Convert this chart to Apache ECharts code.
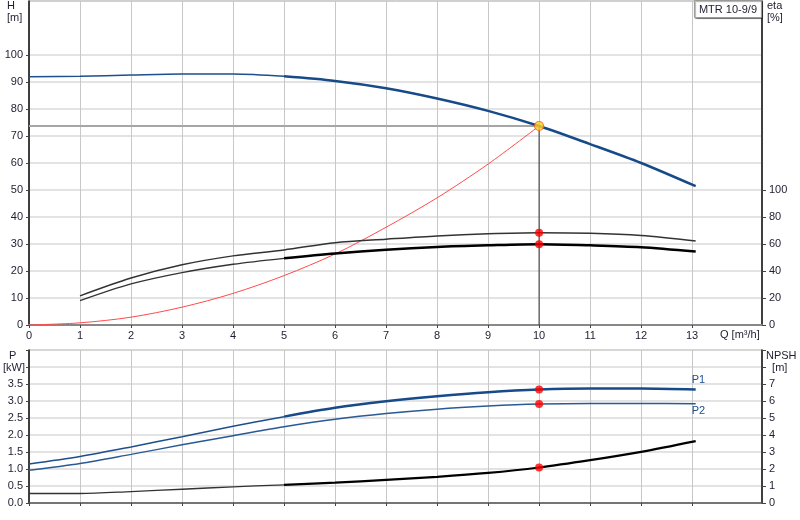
<!DOCTYPE html>
<html>
<head>
<meta charset="utf-8">
<script src="https://cdn.jsdelivr.net/npm/echarts@6/dist/echarts.min.js"></script>
<style>
html,body{margin:0;padding:0;background:#fff}
#chart{width:800px;height:520px}
</style>
</head>
<body>
<div id="chart"></div>
<script>
// pump curve values
var qCurve = [0, 1, 2, 3, 4, 5, 6, 7, 8, 9, 10, 11, 12, 13.07];
var head = [91.9, 92.1, 92.6, 93.0, 93.0, 92.1, 90.4, 87.7, 83.9, 79.3, 73.7, 67.0, 60.0, 51.4];
var powerP1 = [1.15, 1.37, 1.65, 1.95, 2.26, 2.54, 2.80, 2.99, 3.14, 3.26, 3.34, 3.37, 3.37, 3.34];
var powerP2 = [0.96, 1.16, 1.43, 1.71, 1.98, 2.24, 2.46, 2.63, 2.76, 2.85, 2.91, 2.93, 2.93, 2.92];
var npsh = [0.56, 0.56, 0.67, 0.81, 0.95, 1.07, 1.20, 1.36, 1.54, 1.77, 2.09, 2.52, 3.01, 3.64];

var qEta = [1, 2, 3, 4, 5, 6, 7, 8, 9, 10, 11, 12, 13.07];
var etaTotal = [21.6, 34.8, 44.6, 51.2, 55.6, 61.0, 63.6, 66.0, 67.6, 68.4, 68.0, 66.3, 62.3];
var etaPump = [18.0, 30.4, 38.8, 45.0, 49.4, 53.0, 55.8, 57.8, 59.0, 59.8, 59.0, 57.6, 54.4];

var qSystem = [0, 1, 2, 3, 4, 5, 6, 7, 8, 9, 10];
var hSystem = [0, 0.8, 2.9, 6.6, 11.7, 18.3, 26.3, 36.2, 47.1, 59.6, 73.7];

var dutyQ = 10;
var dutyH = 73.7;

var qLabels = [0, 1, 2, 3, 4, 5, 6, 7, 8, 9, 10, 11, 12, 13];
var hLabels = [0, 10, 20, 30, 40, 50, 60, 70, 80, 90, 100];
var etaLabels = [0, 20, 40, 60, 80, 100];
var pLabels = [0, 0.5, 1, 1.5, 2, 2.5, 3, 3.5];
var pTicks = [0, 0.5, 1, 1.5, 2, 2.5, 3, 3.5, 4, 4.5];
var npshLabels = [0, 1, 2, 3, 4, 5, 6, 7];
var npshTicks = [0, 1, 2, 3, 4, 5, 6, 7, 8, 9];

function pairs(xs, ys, from, to) {
    var out = [];
    for (var i = from; i <= to; i++) out.push([xs[i], ys[i]]);
    return out;
}
function at(xs, ys, q) {
    var i = xs.indexOf(q);
    return [xs[i], ys[i]];
}

var FONT = "'Liberation Sans', Arial, sans-serif";
var TXT = '#1e1e30';
var lastC = qCurve.length - 1;
var lastE = qEta.length - 1;
var split5 = qCurve.indexOf(5);
var splitE5 = qEta.indexOf(5);

function xAxisCfg(grid, showLabels, lineColor, lineWidth) {
    return {
        type: 'value', gridIndex: grid, min: 0, max: 14.37, interval: 1,
        axisLine: {show: true, onZero: false, lineStyle: {color: lineColor, width: lineWidth}},
        axisTick: {show: true, length: 3, customValues: qLabels, lineStyle: {color: '#444'}},
        axisLabel: {show: showLabels, customValues: qLabels, margin: 5, fontSize: 11, color: TXT, fontFamily: FONT},
        splitLine: {show: true, lineStyle: {color: '#c8c8c8', width: 1}}
    };
}

var chart = echarts.init(document.getElementById('chart'));
chart.setOption({
    animation: false,
    textStyle: {fontFamily: FONT},
    title: {
        text: 'MTR 10-9/9', right: 38, top: 0,
        padding: [4, 5, 3, 5],
        borderColor: '#999', borderWidth: 1, backgroundColor: '#fff',
        shadowColor: 'rgba(0,0,0,0.35)', shadowOffsetX: 1, shadowOffsetY: 1, shadowBlur: 1,
        textStyle: {fontSize: 11, fontWeight: 'normal', color: TXT, fontFamily: FONT}
    },
    grid: [
        {left: 29, right: 38, top: 1, height: 324, show: true, borderColor: '#a0a0a0', borderWidth: 1},
        {left: 29, right: 38, top: 350, height: 153, show: true, borderColor: '#a0a0a0', borderWidth: 1}
    ],
    xAxis: [
        xAxisCfg(0, true, '#888', 2),
        xAxisCfg(1, false, '#555', 1.5)
    ],
    yAxis: [
        {
            type: 'value', gridIndex: 0, position: 'left', min: 0, max: 120, interval: 10,
            axisLine: {show: true, lineStyle: {color: '#111', width: 1.5}},
            axisTick: {show: true, length: 3, customValues: hLabels, lineStyle: {color: '#444'}},
            axisLabel: {customValues: hLabels, margin: 6, fontSize: 11, color: TXT},
            splitLine: {show: true, lineStyle: {color: '#dadada', width: 1.5}}
        },
        {
            type: 'value', gridIndex: 0, position: 'right', min: 0, max: 240, interval: 20,
            axisLine: {show: true, lineStyle: {color: '#111', width: 1.5}},
            axisTick: {show: true, length: 4, customValues: etaLabels, lineStyle: {color: '#444'}},
            axisLabel: {customValues: etaLabels, margin: 7, fontSize: 11, color: TXT},
            splitLine: {show: false}
        },
        {
            type: 'value', gridIndex: 1, position: 'left', min: 0, max: 4.5, interval: 0.5,
            axisLine: {show: true, lineStyle: {color: '#111', width: 1.5}},
            axisTick: {show: true, length: 3, customValues: pTicks, lineStyle: {color: '#444'}},
            axisLabel: {customValues: pLabels, margin: 6, fontSize: 11, color: TXT,
                formatter: function (v) { return v.toFixed(1); }},
            splitLine: {show: true, lineStyle: {color: '#dadada', width: 1.5}}
        },
        {
            type: 'value', gridIndex: 1, position: 'right', min: 0, max: 9, interval: 1,
            axisLine: {show: true, lineStyle: {color: '#111', width: 1.5}},
            axisTick: {show: true, length: 4, customValues: npshTicks, lineStyle: {color: '#444'}},
            axisLabel: {customValues: npshLabels, margin: 7, fontSize: 11, color: TXT},
            splitLine: {show: false}
        }
    ],
    graphic: [
        {type: 'text', left: 7, top: 0, style: {text: 'H\n[m]', fontSize: 11, lineHeight: 12, fill: TXT, align: 'center', font: '11px ' + FONT}},
        {type: 'text', left: 767, top: 0, style: {text: 'eta\n[%]', fontSize: 11, lineHeight: 12, fill: TXT, align: 'center', font: '11px ' + FONT}},
        {type: 'text', left: 3, top: 350, style: {text: '  P\n[kW]', fontSize: 11, lineHeight: 12, fill: TXT, font: '11px ' + FONT}},
        {type: 'text', left: 766, top: 350, style: {text: 'NPSH\n  [m]', fontSize: 11, lineHeight: 12, fill: TXT, font: '11px ' + FONT}},
        {type: 'text', left: 720, top: 329, style: {text: 'Q [m³/h]', fontSize: 11, fill: TXT, font: '11px ' + FONT}}
    ],
    series: [
        {type: 'line', name: 'duty H', xAxisIndex: 0, yAxisIndex: 0, symbol: 'none', silent: true,
            data: [[0, dutyH], [dutyQ, dutyH]], lineStyle: {color: '#a6a6a6', width: 2}, z: 2},
        {type: 'line', name: 'duty Q', xAxisIndex: 0, yAxisIndex: 0, symbol: 'none', silent: true,
            data: [[dutyQ, dutyH], [dutyQ, 0]], lineStyle: {color: '#333', width: 1}, z: 2},
        {type: 'line', name: 'system', xAxisIndex: 0, yAxisIndex: 0, symbol: 'none', smooth: 0.3,
            data: pairs(qSystem, hSystem, 0, qSystem.length - 1), lineStyle: {color: '#ff4a4a', width: 1}, z: 3},
        {type: 'line', name: 'H', xAxisIndex: 0, yAxisIndex: 0, symbol: 'none', smooth: 0.3,
            data: pairs(qCurve, head, 0, split5), lineStyle: {color: '#1d4f8c', width: 1.5}, z: 4},
        {type: 'line', name: 'H', xAxisIndex: 0, yAxisIndex: 0, symbol: 'none', smooth: 0.3,
            data: pairs(qCurve, head, split5, lastC), lineStyle: {color: '#164a88', width: 2.5}, z: 4},
        {type: 'line', name: 'eta total', xAxisIndex: 0, yAxisIndex: 1, symbol: 'none', smooth: 0.3,
            data: pairs(qEta, etaTotal, 0, lastE), lineStyle: {color: '#333', width: 1.5}, z: 4},
        {type: 'line', name: 'eta pump', xAxisIndex: 0, yAxisIndex: 1, symbol: 'none', smooth: 0.3,
            data: pairs(qEta, etaPump, 0, splitE5), lineStyle: {color: '#333', width: 1.3}, z: 4},
        {type: 'line', name: 'eta pump', xAxisIndex: 0, yAxisIndex: 1, symbol: 'none', smooth: 0.3,
            data: pairs(qEta, etaPump, splitE5, lastE), lineStyle: {color: '#000', width: 2.5}, z: 4},
        {type: 'scatter', name: 'duty point', xAxisIndex: 0, yAxisIndex: 0, symbolSize: 9,
            data: [at(qCurve, head, dutyQ)],
            itemStyle: {color: '#ffd21f', borderColor: '#ff5a1f', borderWidth: 1.2}, z: 6},
        {type: 'scatter', name: 'eta duty', xAxisIndex: 0, yAxisIndex: 1, symbolSize: 8,
            data: [at(qEta, etaTotal, dutyQ), at(qEta, etaPump, dutyQ)],
            itemStyle: {color: '#ff0000'}, z: 6},

        {type: 'line', name: 'P1', xAxisIndex: 1, yAxisIndex: 2, symbol: 'none', smooth: 0.3,
            data: pairs(qCurve, powerP1, 0, split5), lineStyle: {color: '#1d4f8c', width: 1.5}, z: 4},
        {type: 'line', name: 'P1', xAxisIndex: 1, yAxisIndex: 2, symbol: 'none', smooth: 0.3,
            data: pairs(qCurve, powerP1, split5, lastC), lineStyle: {color: '#164a88', width: 2.5}, z: 4,
            endLabel: {show: true, formatter: 'P1', distance: 0, offset: [-4, -9], fontSize: 11, color: '#1d4f8c', fontFamily: FONT}},
        {type: 'line', name: 'P2', xAxisIndex: 1, yAxisIndex: 2, symbol: 'none', smooth: 0.3,
            data: pairs(qCurve, powerP2, 0, lastC), lineStyle: {color: '#2a5a94', width: 1.5}, z: 4,
            endLabel: {show: true, formatter: 'P2', distance: 0, offset: [-4, 7], fontSize: 11, color: '#1d4f8c', fontFamily: FONT}},
        {type: 'line', name: 'NPSH', xAxisIndex: 1, yAxisIndex: 3, symbol: 'none', smooth: 0.3,
            data: pairs(qCurve, npsh, 0, split5), lineStyle: {color: '#333', width: 1.3}, z: 4},
        {type: 'line', name: 'NPSH', xAxisIndex: 1, yAxisIndex: 3, symbol: 'none', smooth: 0.3,
            data: pairs(qCurve, npsh, split5, lastC), lineStyle: {color: '#000', width: 2.2}, z: 4},
        {type: 'scatter', name: 'P duty', xAxisIndex: 1, yAxisIndex: 2, symbolSize: 8,
            data: [at(qCurve, powerP1, dutyQ), at(qCurve, powerP2, dutyQ)],
            itemStyle: {color: '#ff0000'}, z: 6},
        {type: 'scatter', name: 'NPSH duty', xAxisIndex: 1, yAxisIndex: 3, symbolSize: 8,
            data: [at(qCurve, npsh, dutyQ)],
            itemStyle: {color: '#ff0000'}, z: 6}
    ]
});
</script>
</body>
</html>
